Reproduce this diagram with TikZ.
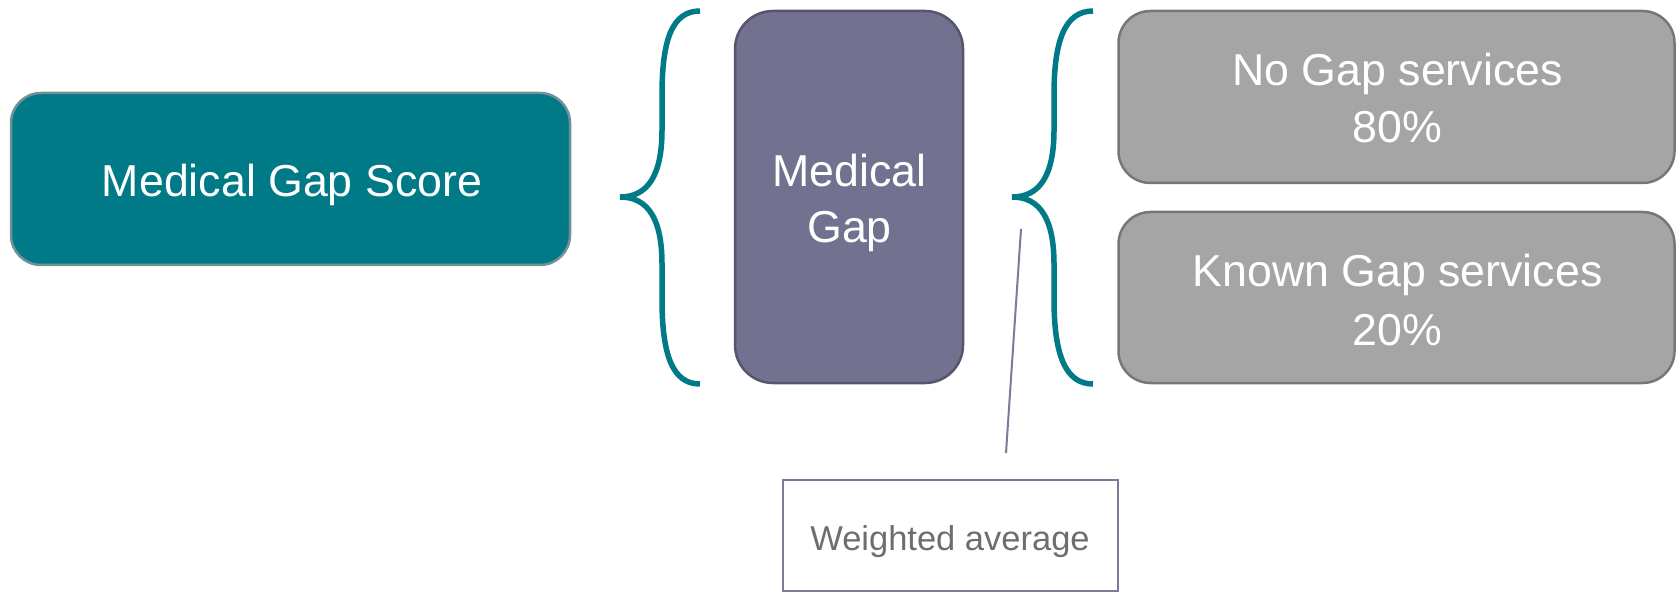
\documentclass[tikz,border=0pt]{standalone}
\usepackage{fontspec}
\setmainfont{Liberation Sans}
\definecolor{teal1}{HTML}{007A87}
\definecolor{tealedge}{HTML}{6E9298}
\definecolor{purp}{HTML}{72718F}
\definecolor{purpedge}{HTML}{56556C}
\definecolor{grayf}{HTML}{A5A5A5}
\definecolor{grayedge}{HTML}{777777}
\definecolor{lineclr}{HTML}{7B7A9A}
\definecolor{txtgray}{HTML}{6E6E6E}
\tikzset{
  box/.style={draw, line width=2.5pt, rounded corners=#1, inner sep=0pt},
  bigtext/.style={text=white, font=\fontsize{44.7}{56.5}\selectfont, anchor=base, inner sep=0pt},
  brace/.style={draw=teal1, line width=5.5pt},
}
\begin{document}
\begin{tikzpicture}[x=1pt,y=-1pt]
\useasboundingbox (0,0) rectangle (1677,593);
% boxes
\node[box=30pt, fill=teal1, draw=tealedge, minimum width=559pt, minimum height=172pt] (score) at (290.5,179) {};
\node[box=38pt, fill=purp, draw=purpedge, minimum width=228pt, minimum height=372pt] (gap) at (849,197) {};
\node[box=32pt, fill=grayf, draw=grayedge, minimum width=556pt, minimum height=172pt] (nogap) at (1396.5,97) {};
\node[box=32pt, fill=grayf, draw=grayedge, minimum width=556pt, minimum height=171pt] (known) at (1396.5,297.5) {};
\node[draw=lineclr, line width=2pt, minimum width=335pt, minimum height=111pt, inner sep=0pt] (wavg) at (950.5,535.5) {};
% texts
\node[bigtext] (t1) at (292,197) {Medical Gap Score};
\node[bigtext] (t2) at (849.5,187) {Medical};
\node[bigtext] (t3) at (849.5,243) {Gap};
\node[bigtext] (t4) at (1397.5,86) {No Gap services};
\node[bigtext] (t5) at (1397.5,143) {80\%};
\node[bigtext] (t6) at (1397.5,287) {Known Gap services};
\node[bigtext] (t7) at (1397.5,345) {20\%};
\node[text=txtgray, font=\fontsize{34.5}{40}\selectfont, anchor=base, inner sep=0pt] (t8) at (950,550) {Weighted average};
% braces
\draw[brace] (700,11) .. controls (672,11) and (662,40) .. (662,95) -- (662,130)
  .. controls (662,175) and (648,197) .. (620,197)
  .. controls (648,197) and (662,219) .. (662,264) -- (662,299)
  .. controls (662,354) and (672,384) .. (700,384);
\draw[brace] (1093,11) .. controls (1065,11) and (1054,40) .. (1054,95) -- (1054,130)
  .. controls (1054,175) and (1040,197) .. (1012,197)
  .. controls (1040,197) and (1054,219) .. (1054,264) -- (1054,299)
  .. controls (1054,354) and (1065,384) .. (1093,384);
% connector
\coordinate (ca) at (1021,229);
\coordinate (cb) at (1006,453);
\draw[lineclr, line width=2pt] (ca) -- (cb);
\end{tikzpicture}
\end{document}
